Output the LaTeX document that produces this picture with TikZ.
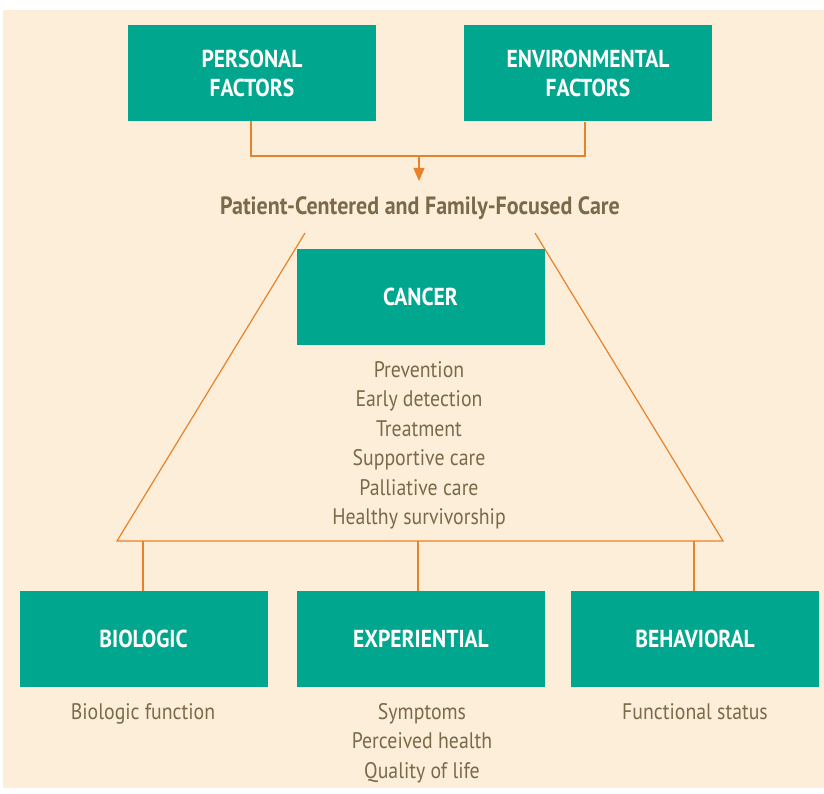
\documentclass[tikz,border=0pt]{standalone}
\usepackage{fontspec}
\setmainfont[FakeStretch=0.88]{PT Sans}
\usetikzlibrary{arrows.meta}
\definecolor{bgc}{HTML}{FDEEDA}
\definecolor{teal}{HTML}{00A78E}
\definecolor{lnc}{HTML}{E8822A}
\definecolor{txc}{HTML}{7A6A4A}
\tikzset{
  box/.style={fill=teal, draw=none, minimum width=248pt, minimum height=96pt, inner sep=0pt,
    text=white, align=center, font=\fontsize{24.5}{29}\selectfont\bfseries},
  conn/.style={draw=lnc, line width=1.2pt},
  body/.style={text=txc, align=center, inner sep=0pt, font=\fontsize{22.5}{29.5}\selectfont},
  ttl/.style={text=txc, inner sep=0pt, font=\fontsize{25}{28}\selectfont\bfseries}
}
\begin{document}
\begin{tikzpicture}[x=1pt,y=-1pt]
\useasboundingbox (0,0) rectangle (824,794);
\fill[bgc] (3,10) rectangle (824,788);
% top boxes
\node[box] (personal) at (252,73) {PERSONAL\\FACTORS};
\node[box] (env) at (588,73.5) {ENVIRONMENTAL\\FACTORS};
\node[ttl] (title) at (420,208) {Patient-Centered and Family-Focused Care};
\coordinate (pj) at (251,156);
\coordinate (ej) at (585,156);
\coordinate (mj) at (419,156);
\coordinate (arrtip) at (419,181);
\draw[conn] (personal.south -| pj) -- (pj) -- (ej) -- (env.south -| ej);
\draw[conn, -{Triangle[length=13pt,width=11pt]}, lnc] (mj) -- (arrtip);
% trapezoid
\coordinate (tl) at (305,233);
\coordinate (tr) at (535,233);
\coordinate (bl) at (117,541);
\coordinate (br) at (723,541);
\draw[conn] (tl) -- (bl) -- (br) -- (tr);
\node[box] (cancer) at (420.5,297) {CANCER};
\node[body] (clist) at (419,445.5) {Prevention\\Early detection\\Treatment\\Supportive care\\Palliative care\\Healthy survivorship};
% bottom boxes
\node[box] (bio) at (143.5,639) {BIOLOGIC};
\node[box] (exp) at (421,639) {EXPERIENTIAL};
\node[box] (beh) at (695,639) {BEHAVIORAL};
\coordinate (b1) at (143,541);
\coordinate (b2) at (418,541);
\coordinate (b3) at (694,541);
\draw[conn] (b1) -- (b1 |- bio.north);
\draw[conn] (b2) -- (b2 |- exp.north);
\draw[conn] (b3) -- (b3 |- beh.north);
\node[body, anchor=base] (biot) at (143,719) {Biologic function};
\node[body] (expt) at (422,743) {Symptoms\\Perceived health\\Quality of life};
\node[body, anchor=base] (beht) at (695,719) {Functional status};
\end{tikzpicture}
\end{document}
